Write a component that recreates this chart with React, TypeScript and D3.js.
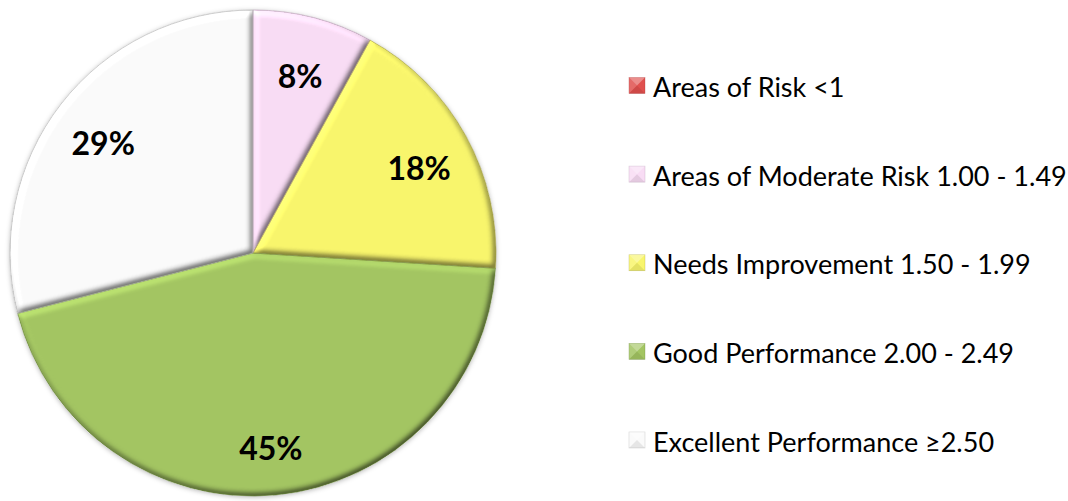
import { useEffect, useRef } from 'react'
import * as d3 from 'd3'

const categories = [
  'Areas of Risk <1',
  'Areas of Moderate Risk 1.00 - 1.49',
  'Needs Improvement 1.50 - 1.99',
  'Good Performance 2.00 - 2.49',
  'Excellent Performance ≥2.50',
]
const values = [0, 8, 18, 45, 29]
const colors = ['#E0504E', '#F8DCF4', '#F8F56C', '#A3C562', '#FAFAFA']
const edgeColors = ['#A83030', '#B89AB4', '#A8A440', '#6A8838', '#B0B0B0']

interface Slice {
  name: string
  value: number
  i: number
}

export default function App() {
  const svgRef = useRef<SVGSVGElement>(null)

  useEffect(() => {
    if (!svgRef.current) return
    const width = 1068
    const height = 501
    const cx = 253
    const cy = 253
    const radius = 243

    const svg = d3.select(svgRef.current)
    svg.selectAll('*').remove()

    const defs = svg.append('defs')
    const shadow = defs.append('filter').attr('id', 'shadow')
      .attr('x', '-10%').attr('y', '-10%').attr('width', '120%').attr('height', '120%')
    shadow.append('feDropShadow')
      .attr('dx', 0).attr('dy', 1).attr('stdDeviation', 2.5)
      .attr('flood-color', '#000').attr('flood-opacity', 0.3)

    // soft bevel, lit from the top left
    const elev = 60
    const bevel = defs.append('filter').attr('id', 'bevel')
      .attr('x', '-5%').attr('y', '-5%').attr('width', '110%').attr('height', '110%')
      .attr('color-interpolation-filters', 'sRGB')
    bevel.append('feGaussianBlur')
      .attr('in', 'SourceAlpha').attr('stdDeviation', 3).attr('result', 'blur')
    bevel.append('feDiffuseLighting')
      .attr('in', 'blur').attr('surfaceScale', 3).attr('diffuseConstant', 1)
      .attr('lighting-color', '#fff').attr('result', 'light')
      .append('feDistantLight').attr('azimuth', 235).attr('elevation', elev)
    bevel.append('feComposite')
      .attr('in', 'SourceGraphic').attr('in2', 'light')
      .attr('operator', 'arithmetic')
      .attr('k1', 1 / Math.sin((elev * Math.PI) / 180)).attr('k2', 0).attr('k3', 0).attr('k4', 0)
      .attr('result', 'lit')
    bevel.append('feComposite')
      .attr('in', 'lit').attr('in2', 'SourceAlpha').attr('operator', 'in')

    const data: Slice[] = categories.map((name, i) => ({ name, value: values[i], i }))

    const pie = d3.pie<Slice>()
      .value(d => d.value)
      .sort(null)
      .startAngle(0)
      .endAngle(Math.PI * 2)

    const arcs = pie(data).filter(d => d.data.value > 0)

    const arc = d3.arc<d3.PieArcDatum<Slice>>()
      .innerRadius(0)
      .outerRadius(radius)

    const g = svg.append('g').attr('transform', `translate(${cx},${cy})`)

    g.append('circle')
      .attr('r', radius)
      .attr('fill', '#fff')
      .attr('filter', 'url(#shadow)')

    g.selectAll('path.slice')
      .data(arcs)
      .join('path')
      .attr('class', 'slice')
      .attr('d', arc)
      .attr('fill', d => colors[d.data.i])
      .attr('filter', 'url(#bevel)')

    g.selectAll('path.edge')
      .data(arcs)
      .join('path')
      .attr('class', 'edge')
      .attr('d', arc)
      .attr('fill', 'none')
      .attr('stroke', d => edgeColors[d.data.i])
      .attr('stroke-opacity', 0.6)
      .attr('stroke-width', 1)

    const labelArc = d3.arc<d3.PieArcDatum<Slice>>()
      .innerRadius(radius * 0.78)
      .outerRadius(radius * 0.78)

    g.selectAll('text.pct')
      .data(arcs)
      .join('text')
      .attr('class', 'pct')
      .attr('transform', d => {
        const [x, y] = labelArc.centroid(d)
        return `translate(${x},${y + 6})`
      })
      .attr('text-anchor', 'middle')
      .attr('dominant-baseline', 'central')
      .attr('font-family', 'Lato, "Open Sans", sans-serif')
      .attr('font-weight', 700)
      .attr('font-size', 32)
      .attr('fill', '#000')
      .text(d => `${d.data.value}%`)

    const legendY = d3.scalePoint<string>()
      .domain(categories)
      .range([85.5, 440])

    const legend = svg.append('g')
    const items = legend.selectAll('g.item')
      .data(data)
      .join('g')
      .attr('class', 'item')
      .attr('transform', d => `translate(629,${legendY(d.name)})`)

    const s = 16
    items.append('rect')
      .attr('x', 0).attr('y', -s / 2)
      .attr('width', s).attr('height', s)
      .attr('fill', d => colors[d.i])
      .attr('stroke', d => edgeColors[d.i])
      .attr('stroke-opacity', 0.5)
      .attr('stroke-width', 0.6)
    // pyramid bevel on the legend keys
    items.append('path')
      .attr('d', `M0,${-s / 2} L${s},${-s / 2} L${s / 2},0 Z`)
      .attr('fill', '#fff').attr('fill-opacity', 0.35)
    items.append('path')
      .attr('d', `M0,${-s / 2} L${s / 2},0 L0,${s / 2} Z`)
      .attr('fill', '#fff').attr('fill-opacity', 0.15)
    items.append('path')
      .attr('d', `M0,${s / 2} L${s},${s / 2} L${s / 2},0 Z`)
      .attr('fill', '#000').attr('fill-opacity', 0.08)

    items.append('text')
      .attr('x', 24)
      .attr('y', 1)
      .attr('dominant-baseline', 'central')
      .attr('font-family', 'Lato, "Open Sans", sans-serif')
      .attr('font-size', 27)
      .attr('fill', '#000')
      .text(d => d.name)

    svg.attr('width', width).attr('height', height)
  }, [])

  return (
    <div style={{ position: 'absolute', left: 0, top: 0, background: '#fff' }}>
      <svg ref={svgRef} width={1068} height={501} style={{ display: 'block' }} />
    </div>
  )
}
